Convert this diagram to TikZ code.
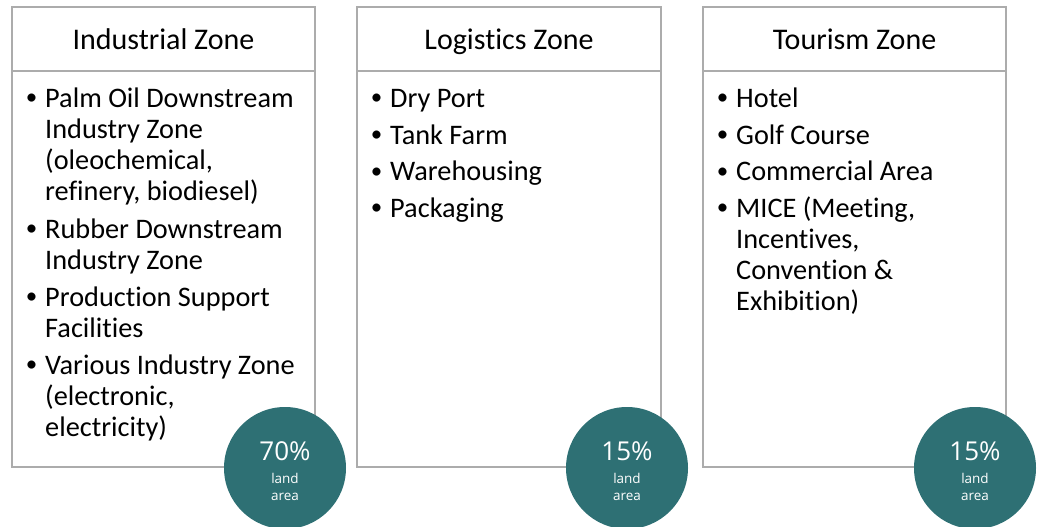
\documentclass[tikz,border=0pt]{standalone}
\usepackage{fontspec}
\setmainfont{Carlito}[Ligatures=NoCommon]
\newfontfamily\badgefont{Open Sans}
\definecolor{boxgray}{RGB}{172,172,172}
\definecolor{teal}{RGB}{46,112,116}
\tikzset{
  boxline/.style={draw=boxgray, line width=2pt, fill=white},
  hdr/.style={anchor=base, inner sep=0pt, font=\fontsize{30}{36}\selectfont},
  itm/.style={anchor=base west, inner sep=0pt, font=\fontsize{28.3}{31}\selectfont},
  bul/.style={anchor=base, inner sep=0pt, yshift=2.5pt, font=\fontsize{23}{26}\selectfont},
  badge/.style={circle, fill=teal, minimum size=122pt, inner sep=0pt},
  pct/.style={anchor=base, inner sep=0pt, text=white, font=\badgefont\fontsize{26}{30}\selectfont},
  sub/.style={anchor=base, inner sep=0pt, text=white, font=\badgefont\fontsize{13.5}{15}\selectfont},
}
\begin{document}
\begin{tikzpicture}[x=1pt, y=-1pt]
\useasboundingbox (0,0) rectangle (1042,527);
% boxes
\draw[boxline] (12,71) rectangle (315,467);
\draw[boxline] (12,7) rectangle (315,71);
\draw[boxline] (357,71) rectangle (661,467);
\draw[boxline] (357,7) rectangle (661,71);
\draw[boxline] (703,71) rectangle (1006,467);
\draw[boxline] (703,7) rectangle (1006,71);
% headers
\node[hdr] (h1) at (163.5,50) {Industrial Zone};
\node[hdr] (h2) at (509,50) {Logistics Zone};
\node[hdr] (h3) at (854.5,50) {Tourism Zone};
% Industrial items
\node[bul] (b11) at (31.7,107.3) {•};
\node[itm] (i11) at (45,107.3) {Palm Oil Downstream};
\node[itm] (i12) at (45,138.3) {Industry Zone};
\node[itm] (i13) at (45,169.3) {(oleochemical,};
\node[itm] (i14) at (45,200.3) {refinery, biodiesel)};
\node[bul] (b12) at (31.7,238) {•};
\node[itm] (i15) at (45,238) {Rubber Downstream};
\node[itm] (i16) at (45,269) {Industry Zone};
\node[bul] (b13) at (31.7,306) {•};
\node[itm] (i17) at (45,306) {Production Support};
\node[itm] (i18) at (45,337) {Facilities};
\node[bul] (b14) at (31.7,374) {•};
\node[itm] (i19) at (45,374) {Various Industry Zone};
\node[itm] (i110) at (45,405) {(electronic,};
\node[itm] (i111) at (45,436) {electricity)};
% Logistics items
\node[bul] (b21) at (376.7,107.3) {•};
\node[itm] (i21) at (390,107.3) {Dry Port};
\node[bul] (b22) at (376.7,144) {•};
\node[itm] (i22) at (390,144) {Tank Farm};
\node[bul] (b23) at (376.7,180.5) {•};
\node[itm] (i23) at (390,180.5) {Warehousing};
\node[bul] (b24) at (376.7,217) {•};
\node[itm] (i24) at (390,217) {Packaging};
% Tourism items
\node[bul] (b31) at (722.7,107.3) {•};
\node[itm] (i31) at (736,107.3) {Hotel};
\node[bul] (b32) at (722.7,144) {•};
\node[itm] (i32) at (736,144) {Golf Course};
\node[bul] (b33) at (722.7,180.5) {•};
\node[itm] (i33) at (736,180.5) {Commercial Area};
\node[bul] (b34) at (722.7,217) {•};
\node[itm] (i34) at (736,217) {MICE (Meeting,};
\node[itm] (i35) at (736,248) {Incentives,};
\node[itm] (i36) at (736,279) {Convention \&};
\node[itm] (i37) at (736,310) {Exhibition)};
% badges
\node[badge] (c1) at (285,468) {};
\node[pct] (p1) at (285,460) {70\%};
\node[sub] (l1) at (285,483.3) {land};
\node[sub] (a1) at (285,500.7) {area};
\node[badge] (c2) at (627,468) {};
\node[pct] (p2) at (627,460) {15\%};
\node[sub] (l2) at (627,483.3) {land};
\node[sub] (a2) at (627,500.7) {area};
\node[badge] (c3) at (975,468) {};
\node[pct] (p3) at (975,460) {15\%};
\node[sub] (l3) at (975,483.3) {land};
\node[sub] (a3) at (975,500.7) {area};
\end{tikzpicture}
\end{document}
